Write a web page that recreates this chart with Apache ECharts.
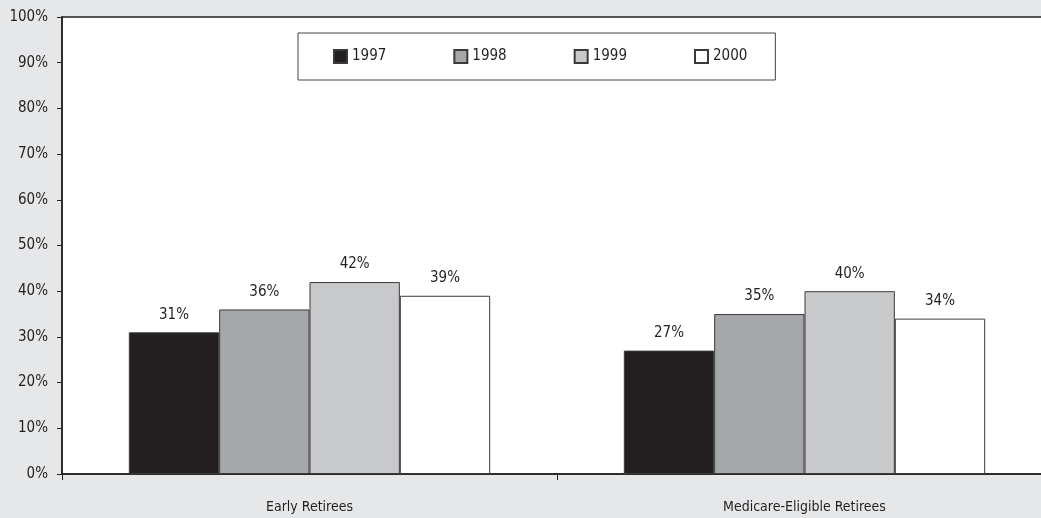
<!DOCTYPE html>
<html>
<head>
<meta charset="utf-8">
<script src="https://cdn.jsdelivr.net/npm/echarts@6/dist/echarts.min.js"></script>
<style>
  html, body { margin: 0; padding: 0; background: #e6e7e8; }
  #chart { width: 1041px; height: 518px; }
</style>
</head>
<body>
<div id="chart"></div>
<script>
// Retiree groups and yearly shares (percent)
const categories = ['Early Retirees', 'Medicare-Eligible Retirees'];
const years = ['1997', '1998', '1999', '2000'];
const values1997 = [31, 27];
const values1998 = [36, 35];
const values1999 = [42, 40];
const values2000 = [39, 34];
const yearColors = ['#231f20', '#a6a7aa', '#c8c9cb', '#ffffff'];

const FONT = '"Liberation Sans Narrow", "DejaVu Sans Condensed", "Roboto", sans-serif';
const seriesValues = [values1997, values1998, values1999, values2000];

const chart = echarts.init(document.getElementById('chart'), null, { renderer: 'canvas' });

chart.setOption({
  backgroundColor: '#e6e7e8',
  animation: false,
  textStyle: { fontFamily: FONT },
  grid: {
    left: 62, width: 990, top: 17, bottom: 44,
    outerBoundsMode: 'none',
    containLabel: false,
    show: true, backgroundColor: '#ffffff',
    borderColor: '#231f20', borderWidth: 1.5
  },
  legend: {
    left: 298, top: 33,
    orient: 'horizontal',
    data: years,
    icon: 'rect',
    itemWidth: 13, itemHeight: 13,
    itemGap: 67,
    padding: [16, 28, 16, 35],
    backgroundColor: '#ffffff',
    borderColor: '#444',
    borderWidth: 1,
    selectedMode: false,
    textStyle: { fontFamily: FONT, fontSize: 15, color: '#231f20', width: 33 }
  },
  xAxis: {
    type: 'category',
    data: categories,
    boundaryGap: true,
    axisLine: { lineStyle: { color: '#231f20', width: 1.5 } },
    axisTick: { show: true, inside: false, length: 6, lineStyle: { color: '#231f20' } },
    axisLabel: { margin: 26, fontFamily: FONT, fontSize: 14, color: '#231f20' },
    splitLine: { show: false }
  },
  yAxis: {
    type: 'value',
    min: 0, max: 100, interval: 10,
    axisLine: { show: true, lineStyle: { color: '#231f20', width: 1.5 } },
    axisTick: { show: true, length: 5, lineStyle: { color: '#231f20' } },
    axisLabel: { margin: 14, fontFamily: FONT, fontSize: 15, color: '#231f20', formatter: '{value}%' },
    splitLine: { show: false }
  },
  series: years.map((y, i) => ({
    name: y,
    type: 'bar',
    data: seriesValues[i],
    barGap: '0%',
    barCategoryGap: '27%',
    itemStyle: { color: yearColors[i], borderColor: '#3a3a3a', borderWidth: 1 },
    label: {
      show: true, position: 'top', distance: 10,
      formatter: '{c}%',
      fontFamily: FONT, fontSize: 15, color: '#231f20'
    }
  }))
});
</script>
</body>
</html>
